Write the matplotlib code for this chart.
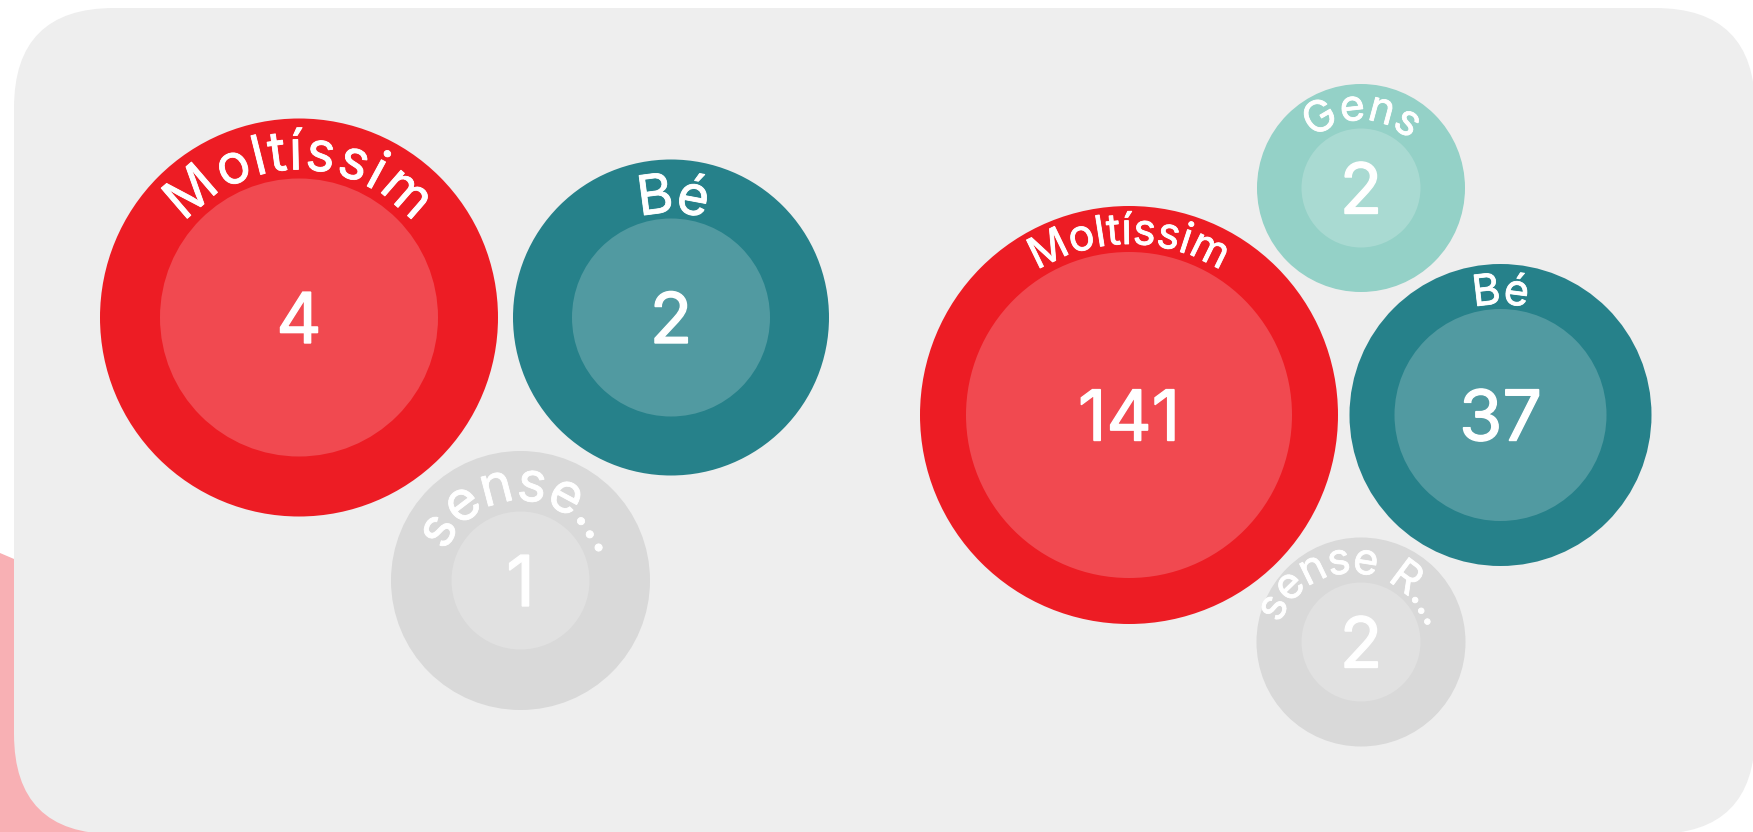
import matplotlib
matplotlib.use("Agg")
import matplotlib.pyplot as plt
from matplotlib.patches import Circle, FancyBboxPatch, Polygon
from matplotlib.font_manager import FontProperties, findfont
from matplotlib.ft2font import FT2Font
import matplotlib.patheffects as pe
import matplotlib.colors as mcolors
import numpy as np

# ---------------- data ----------------
group1_labels = ["Moltíssim", "Bé", "sense…"]
group1_values = [4, 2, 1]
group2_labels = ["Moltíssim", "Gens", "Bé", "sense R…"]
group2_values = [141, 2, 37, 2]

# ---------------- layout (pixels) ----------------
group1_cx = [299, 671, 520.5]
group1_cy = [317.5, 317.5, 580.5]
group1_r = [199, 158, 129.5]
group1_inner = [139, 99, 69]
group1_text_c = [(0, 0), (0, 0), (0, 0)]      # offset of the label arc centre
group1_text_r = [148, 105, 80]
group1_span = [(-51, 51), (-17, 19), (-69, 73)]

group2_cx = [1129, 1361, 1500.5, 1361]
group2_cy = [415, 188, 415, 642]
group2_r = [209, 104, 151, 104.5]
group2_inner = [163, 59.5, 106, 59.5]
group2_text_c = [(0, 0), (0, 0), (0, 0), (-9, 8)]
group2_text_r = [171, 68, 111, 77]
group2_span = [(-32.5, 32.5), (-44, 45), (-14, 14), (-70, 74)]

label_colors = {"Moltíssim": "#ED1C24", "Bé": "#26818A", "Gens": "#94D1C7",
                "sense…": "#D9D9D9", "sense R…": "#D9D9D9"}

W, H = 1753, 832
fig = plt.figure(figsize=(W / 100, H / 100), dpi=100)
fig.patch.set_facecolor("white")
ax = fig.add_axes([0, 0, 1, 1])
ax.set_xlim(0, W)
ax.set_ylim(H, 0)
ax.axis("off")

PX = 0.72  # points per pixel at 100 dpi

# background shapes
ax.add_patch(Polygon([(0, 553), (400, 724), (400, 840), (0, 840)],
                     closed=True, facecolor="#F8B0B4", edgecolor="none", zorder=0))
ax.add_patch(FancyBboxPatch((14, 8), 1741, 826,
                            boxstyle="round,pad=0,rounding_size=100",
                            facecolor="#EEEEEE", edgecolor="none", zorder=1))

fam = ["Inter", "DejaVu Sans"]
fp_label = FontProperties(family="Inter")
font_path = findfont(fp_label)
ft = FT2Font(font_path)

label_fx = [pe.withStroke(linewidth=0.6, foreground="white", joinstyle="miter")]
num_fx = [pe.withStroke(linewidth=1.0, foreground="white", joinstyle="miter")]


def advances(s, size_px):
    ft.set_size(size_px, 72)
    out = []
    for ch in s:
        try:
            g = ft.load_char(ord(ch))
            out.append(g.linearHoriAdvance / 65536.0)
        except Exception:
            out.append(size_px * 0.5)
    return out


def lighten(c, f=0.2):
    rgb = np.array(mcolors.to_rgb(c))
    return tuple(rgb + (1 - rgb) * f)


def curved_label(cx, cy, rb, span, text, size_px):
    adv = advances(text, size_px)
    total = sum(adv)
    a0, a1 = span
    pos = 0.0
    for ch, a in zip(text, adv):
        mid = pos + a / 2.0
        pos += a
        th = a0 + (a1 - a0) * mid / total
        t = np.radians(th)
        x = cx + rb * np.sin(t)
        y = cy - rb * np.cos(t)
        ax.text(x, y, ch, rotation=-th, rotation_mode="anchor",
                ha="center", va="baseline", color="white",
                fontsize=size_px * PX, family=fam, zorder=5,
                path_effects=label_fx)


def draw_group(labels, values, cxs, cys, rs, inners, tcs, trs, spans, label_px):
    for lab, val, cx, cy, r, ri, tc, tr, sp in zip(labels, values, cxs, cys, rs,
                                                    inners, tcs, trs, spans):
        col = label_colors[lab]
        ax.add_patch(Circle((cx, cy), r, facecolor=col, edgecolor="none", zorder=2))
        ax.add_patch(Circle((cx, cy), ri, facecolor=lighten(col), edgecolor="none", zorder=3))
        ax.text(cx, cy + 25.5, str(val), ha="center", va="baseline", color="white",
                fontsize=70 * PX, family=fam, zorder=5, path_effects=num_fx)
        curved_label(cx + tc[0], cy + tc[1], tr, sp, lab, label_px)


draw_group(group1_labels, group1_values, group1_cx, group1_cy, group1_r,
           group1_inner, group1_text_c, group1_text_r, group1_span, 55)
draw_group(group2_labels, group2_values, group2_cx, group2_cy, group2_r,
           group2_inner, group2_text_c, group2_text_r, group2_span, 43)

fig.savefig("out.png", dpi=100, facecolor="white")
